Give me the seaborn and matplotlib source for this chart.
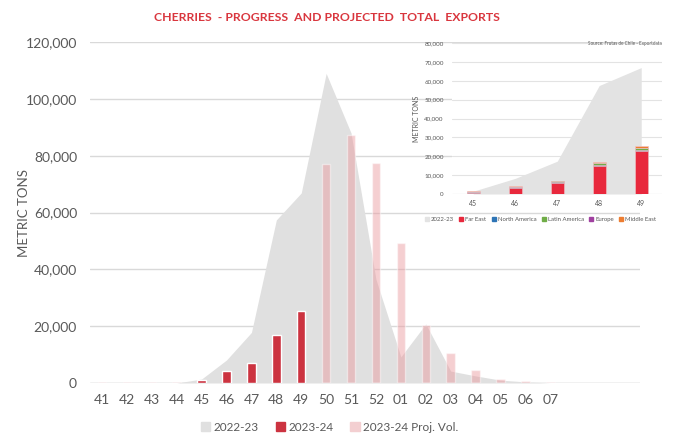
import numpy as np
import pandas as pd
import seaborn as sns
import matplotlib.pyplot as plt
from matplotlib.patches import Patch

# main chart data (metric tons per week)
weeks = ["41", "42", "43", "44", "45", "46", "47", "48", "49", "50",
         "51", "52", "01", "02", "03", "04", "05", "06", "07"]
exp_2223 = [0, 0, 0, 0, 1400, 8100, 17800, 57400, 66900, 109000,
            88000, 36500, 9200, 20800, 4200, 2500, 1000, 400, 0]
exp_2324 = [0, 0, 0, 0, 1100, 4200, 7000, 16900, 25400, 0,
            0, 0, 0, 0, 0, 0, 0, 0, 0]
proj_2324 = [300, 300, 300, 300, 0, 0, 0, 0, 0, 77100,
             87300, 77400, 49300, 20400, 10500, 4600, 1400, 700, 300]

# inset data, by destination
inset_weeks = ["45", "46", "47", "48", "49"]
inset_2223 = [1500, 8300, 17400, 57500, 67000]
far_east = [400, 3300, 5900, 14800, 22700]
north_america = [700, 300, 500, 700, 500]
latin_america = [0, 200, 300, 700, 1100]
europe = [200, 100, 100, 200, 300]
middle_east = [100, 400, 200, 600, 700]

sns.set_style("white")
plt.rcParams["font.family"] = ["Lato", "DejaVu Sans"]

grey = "#e0e0e0"
dark_red = "#cc3340"
pink = "#eb969b"
txt = "#595959"
grid_c = "#d9d9d9"

fig = plt.figure(figsize=(6.73, 4.37), dpi=100)

# ---- main chart
ax = fig.add_axes([0.133, 0.1236, 0.818, 0.780])
df = pd.DataFrame({"week": weeks, "prev": exp_2223, "cur": exp_2324, "proj": proj_2324})
xpos = np.arange(len(weeks))
ax.fill_between(xpos, df["prev"], color=grey, lw=0, zorder=1)
sns.barplot(data=df, x="week", y="proj", order=weeks, color=pink, alpha=0.45,
            width=0.34, saturation=1, ax=ax, zorder=2)
sns.barplot(data=df, x="week", y="cur", order=weeks, color=dark_red,
            width=0.34, saturation=1, ax=ax, zorder=3)
ax.set_xlim(-0.5, 21.6)
ax.set_ylim(0, 120000)
ax.set_yticks(range(0, 120001, 20000))
ax.set_yticklabels([f"{v:,}" for v in range(0, 120001, 20000)])
ax.yaxis.grid(True, color=grid_c, lw=1)
ax.set_axisbelow(True)
sns.despine(ax=ax, left=True, bottom=True, top=True, right=True)
ax.axhline(0, color=grid_c, lw=1, zorder=0)
ax.tick_params(length=0, labelsize=10, colors=txt)
ax.tick_params(axis="y", pad=9)
ax.tick_params(axis="x", pad=8)
ax.set_xlabel("")
ax.set_ylabel("METRIC TONS", fontsize=9.5, color=txt)
ax.yaxis.set_label_coords(-0.108, 0.5)

handles = [Patch(color=grey, label="2022-23"),
           Patch(color=dark_red, label="2023-24"),
           Patch(color="#f3cfd1", label="2023-24 Proj. Vol.")]
fig.legend(handles=handles, loc="center", bbox_to_anchor=(0.49, 0.022), ncol=3,
           frameon=False, fontsize=8.5, handlelength=0.8, handleheight=0.8,
           handletextpad=0.3, columnspacing=1.4, labelcolor=txt)

fig.text(0.486, 0.959, "CHERRIES  - PROGRESS  AND PROJECTED  TOTAL  EXPORTS",
         ha="center", va="center", color="#d9363e", fontsize=8.8, fontweight="bold")

# ---- inset chart
ax2 = fig.add_axes([0.672, 0.556, 0.312, 0.3455])
idf = pd.DataFrame({"week": inset_weeks, "prev": inset_2223, "fe": far_east,
                    "na": north_america, "la": latin_america, "eu": europe, "me": middle_east})
ax2.fill_between(np.arange(len(inset_weeks)), idf["prev"], color="#e3e3e3", lw=0, zorder=1)
layers = [("fe", "Far East", "#e8283c"), ("na", "North America", "#2e75b6"),
          ("la", "Latin America", "#70ad47"), ("eu", "Europe", "#a040a0"),
          ("me", "Middle East", "#ed7d31")]
cum = idf[[k for k, _, _ in layers]].cumsum(axis=1)
for k, name, c in reversed(layers):
    sns.barplot(x=idf["week"], y=cum[k], order=inset_weeks, color=c, width=0.3,
                saturation=1, ax=ax2, zorder=3, edgecolor="#f2c4c6", linewidth=0.5)
ax2.set_xlim(-0.5, 4.5)
ax2.set_ylim(0, 80000)
ax2.set_yticks(range(0, 80001, 10000))
ax2.set_yticklabels([f"{v:,}" for v in range(0, 80001, 10000)])
ax2.yaxis.grid(True, color="#e3e3e3", lw=0.8)
ax2.set_axisbelow(True)
sns.despine(ax=ax2, left=True, bottom=True, top=True, right=True)
ax2.axhline(0, color="#e3e3e3", lw=0.8, zorder=0)
ax2.tick_params(length=0, labelsize=4.5, colors=txt, pad=6)
ax2.tick_params(axis="x", labelsize=5, pad=4)
ax2.set_xlabel("")
ax2.set_ylabel("METRIC TONS", fontsize=5, color=txt, labelpad=3)
ax2.text(1.0, 1.0, "Source: Frutas de Chile - Exportdata", transform=ax2.transAxes,
         ha="right", va="center", fontsize=3.3, color=txt)
ih = [Patch(color="#e3e3e3", label="2022-23")] + [Patch(color=c, label=n) for _, n, c in layers]
ax2.legend(handles=ih, loc="center", bbox_to_anchor=(0.42, -0.17), ncol=6, frameon=False,
           fontsize=4.3, handlelength=0.7, handleheight=0.7, handletextpad=0.3,
           columnspacing=0.9, labelcolor=txt)

fig.savefig("out.png", dpi=100)
